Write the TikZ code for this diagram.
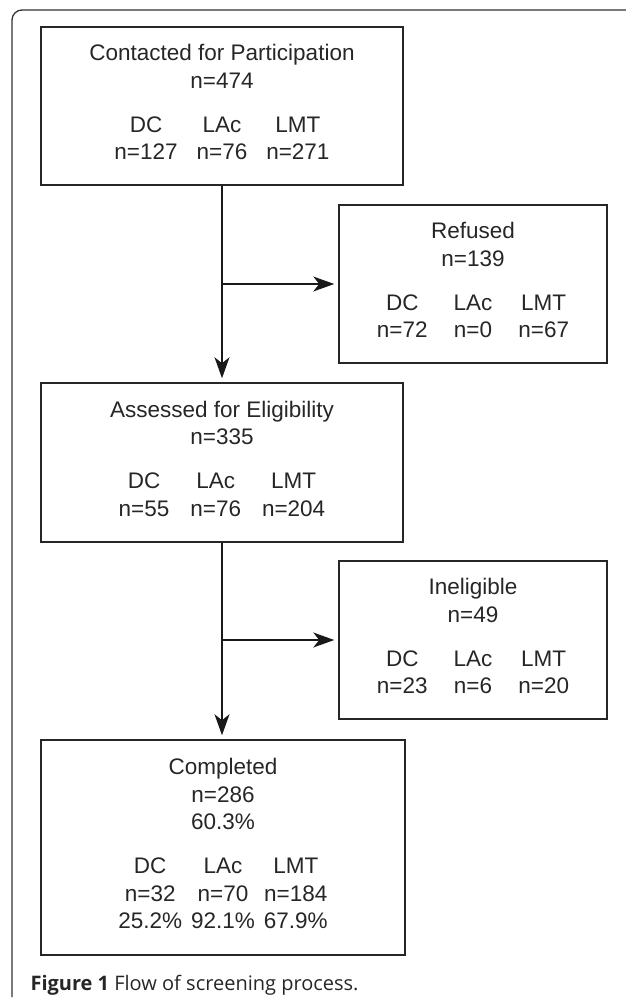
\documentclass[tikz,border=0pt]{standalone}
\usepackage{fontspec}
\setmainfont{Liberation Sans}
\newfontfamily\capfont{Open Sans}
\usetikzlibrary{arrows.meta}

\newcommand{\counts}[2]{{\setlength{\tabcolsep}{#1}\begin{tabular}[t]{ccc}#2\end{tabular}}}

\tikzset{
  box/.style={draw=black!85, line width=1.5pt, align=center, inner sep=0pt,
    text=black!85, font=\fontsize{22.5}{27.5}\selectfont},
  flow/.style={draw=black!90, line width=1.4pt, shorten >=4pt,
    -{Stealth[length=21pt,width=15pt,inset=6pt]}},
}

\begin{document}
\begin{tikzpicture}[x=1pt,y=-1pt]
        \useasboundingbox (0,0) rectangle (625,999);
        % figure frame
        \draw[line width=1.3pt, black!80, rounded corners=10pt](12,997)--(12,10)--(640,10);

        \node[box, minimum width=362, minimum height=158] (contact) at (222,106)
          {Contacted for Participation\\ n=474\\[16.5pt]
           \counts{9.5pt}{DC & LAc & LMT\\ n=127 & n=76 & n=271}};
        \node[box, minimum width=268, minimum height=158] (refused) at (473,284)
          {Refused\\ n=139\\[16.5pt]
           \counts{13pt}{DC & LAc & LMT\\ n=72 & n=0 & n=67}};
        \node[box, minimum width=362, minimum height=159] (assessed) at (222,462.5)
          {Assessed for Eligibility\\ n=335\\[16.5pt]
           \counts{10.5pt}{DC & LAc & LMT\\ n=55 & n=76 & n=204}};
        \node[box, minimum width=268, minimum height=158] (inelig) at (473,640)
          {Ineligible\\ n=49\\[16.5pt]
           \counts{13pt}{DC & LAc & LMT\\ n=23 & n=6 & n=20}};
        \node[box, minimum width=364, minimum height=215] (complete) at (223,847.5)
          {Completed\\ n=286\\ 60.3\%\\[16.5pt]
           \counts{4.5pt}{DC & LAc & LMT\\ n=32 & n=70 & n=184\\ 25.2\% & 92.1\% & 67.9\%}};

        \draw[flow](contact.south)--(assessed.north);
        \draw[flow](contact.south |- refused.west)--(refused.west);
        \draw[flow](assessed.south)--(complete.north -| assessed.south);
        \draw[flow](assessed.south |- inelig.west)--(inelig.west);

        \node[anchor=base west, text=black!85, font=\capfont\fontsize{20}{24}\selectfont] (caption) at (27,990)
          {\textbf{Figure 1} Flow of screening process.};
\end{tikzpicture}
\end{document}
